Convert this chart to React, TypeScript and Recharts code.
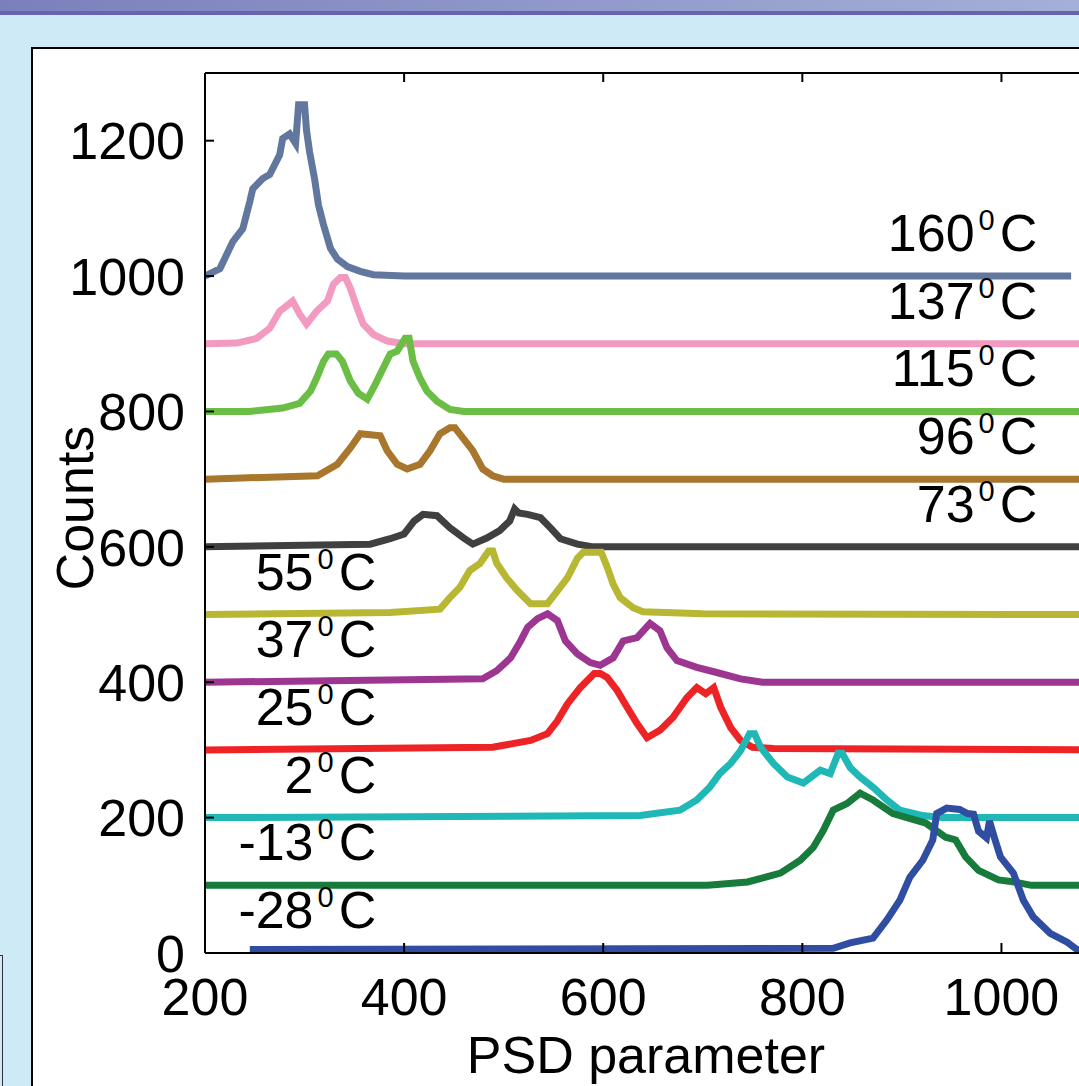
import React from 'react';
import { LineChart, Line, XAxis, YAxis, ReferenceDot } from 'recharts';

const FONT = '"Liberation Sans", Arial, Helvetica, sans-serif';

type Pt = [number, number];

// PSD spectra, one per temperature, stacked with a vertical offset of 100 counts
const s160: Pt[] = [
  [200, 1000], [215, 1011], [228, 1051], [238, 1070], [245, 1110], [248, 1129], [258, 1144],
  [265, 1150], [275, 1179], [278, 1203], [285, 1210], [291, 1196], [294, 1253], [300, 1253],
  [302, 1215], [305, 1184], [310, 1144], [314, 1105], [319, 1076], [326, 1041], [333, 1025],
  [343, 1014], [356, 1007], [369, 1002], [400, 1000], [1070, 1000],
];
const s137: Pt[] = [
  [200, 900], [232, 901], [252, 908], [265, 923], [275, 948], [288, 963], [295, 944],
  [302, 929], [312, 948], [323, 963], [329, 988], [336, 998], [341, 998], [346, 982],
  [353, 952], [359, 929], [369, 914], [383, 904], [400, 900], [1100, 900],
];
const s115: Pt[] = [
  [200, 800], [245, 800], [278, 805], [295, 812], [306, 830], [312, 849], [319, 874],
  [324, 885], [332, 885], [338, 874], [346, 845], [354, 827], [363, 818], [371, 840],
  [379, 864], [386, 885], [393, 889], [401, 908], [405, 908], [409, 874], [416, 849],
  [423, 830], [433, 815], [446, 803], [460, 800], [1100, 800],
];
const s96: Pt[] = [
  [200, 700], [313, 705], [333, 722], [346, 746], [356, 767], [376, 764], [383, 742],
  [393, 722], [403, 715], [416, 722], [426, 742], [436, 767], [446, 776], [451, 776],
  [459, 761], [469, 742], [479, 715], [489, 705], [500, 700], [1100, 700],
];
const s73: Pt[] = [
  [200, 600], [366, 604], [386, 612], [400, 619], [410, 638], [419, 648], [433, 646],
  [446, 628], [460, 613], [469, 604], [483, 613], [496, 624], [506, 638], [511, 656],
  [515, 650], [524, 648], [537, 643], [547, 628], [557, 612], [574, 604], [590, 600],
  [1100, 600],
];
const s55: Pt[] = [
  [200, 500], [386, 503], [436, 508], [446, 525], [456, 540], [466, 565], [476, 575],
  [485, 594], [489, 594], [493, 576], [503, 554], [514, 535], [527, 516], [544, 516],
  [554, 535], [564, 554], [574, 583], [580, 592], [598, 592], [604, 570], [610, 545],
  [617, 525], [630, 510], [640, 504], [700, 501], [1100, 500],
];
const s37: Pt[] = [
  [200, 400], [479, 405], [493, 417], [507, 436], [517, 461], [524, 481], [534, 494],
  [544, 501], [554, 491], [562, 461], [574, 442], [587, 429], [597, 425], [610, 436],
  [620, 461], [634, 466], [647, 487], [657, 476], [664, 451], [674, 432], [694, 422],
  [715, 414], [738, 405], [760, 400], [1100, 400],
];
const s25: Pt[] = [
  [200, 300], [489, 304], [527, 314], [544, 324], [554, 343], [564, 368], [577, 392],
  [591, 413], [597, 413], [604, 407], [614, 388], [624, 363], [634, 339], [644, 318],
  [657, 329], [670, 348], [684, 377], [694, 392], [703, 383], [711, 392], [718, 363],
  [728, 333], [738, 314], [750, 304], [771, 302], [1100, 300],
];
const s2: Pt[] = [
  [200, 200], [637, 203], [677, 211], [694, 226], [707, 245], [717, 265], [728, 280],
  [738, 299], [747, 324], [752, 324], [758, 304], [771, 280], [785, 260], [801, 251],
  [818, 270], [828, 265], [836, 295], [840, 295], [848, 274], [858, 260], [871, 245],
  [885, 226], [898, 211], [921, 203], [940, 200], [1100, 200],
];
const sMinus13: Pt[] = [
  [200, 100], [705, 100], [745, 105], [778, 118], [798, 137], [811, 156], [821, 181],
  [831, 211], [845, 221], [858, 236], [871, 226], [891, 206], [905, 200], [924, 192],
  [944, 171], [954, 167], [964, 142], [977, 122], [997, 108], [1013, 105], [1030, 100],
  [1100, 100],
];
const sMinus28: Pt[] = [
  [245, 5], [831, 7], [848, 15], [871, 22], [885, 49], [898, 78], [908, 112], [921, 137],
  [931, 167], [935, 206], [945, 214], [958, 212], [966, 206], [972, 205], [977, 180],
  [985, 170], [988, 195], [993, 170], [999, 142], [1012, 118], [1022, 78], [1032, 53],
  [1049, 29], [1066, 16], [1076, 5], [1100, 0],
];

const spectra = [s160, s137, s115, s96, s73, s55, s37, s25, s2, sMinus13, sMinus28];
const temperatures = ['160', '137', '115', '96', '73', '55', '37', '25', '2', '-13', '-28'];
const baselines = [1000, 900, 800, 700, 600, 500, 400, 300, 200, 100, 0];

const xTicks = [200, 400, 600, 800, 1000];
const yTicks = [0, 200, 400, 600, 800, 1000, 1200];

const lineColors = [
  '#62779e', '#f39ac1', '#6bbe45', '#a8762c', '#404040', '#b7b733',
  '#9d3691', '#ee2326', '#20b7b7', '#177b3b', '#2f4ea2',
];

const curves = spectra.map((pts) => pts.map(([x, y]) => ({ x, y })));

const YTick = (props: any) => {
  const { x, y, payload } = props;
  return (
    <g>
      <line x1={x} x2={x + 9} y1={y} y2={y} stroke="#000" strokeWidth={2} />
      <text x={x - 20} y={y} dy="0.36em" textAnchor="end" fontFamily={FONT} fontSize={52} fill="#000">
        {payload.value}
      </text>
    </g>
  );
};

const XTickBottom = (props: any) => {
  const { x, y, payload } = props;
  return (
    <g>
      <line x1={x} x2={x} y1={y} y2={y - 10} stroke="#000" strokeWidth={2} />
      <text x={x} y={y + 62} textAnchor="middle" fontFamily={FONT} fontSize={52} fill="#000">
        {payload.value}
      </text>
    </g>
  );
};

const XTickTop = (props: any) => {
  const { x, y } = props;
  return <line x1={x} x2={x} y1={y} y2={y + 9} stroke="#000" strokeWidth={2} />;
};

const TempLabel = (props: any) => {
  const { viewBox, text } = props;
  const vb = viewBox || { x: 0, y: 0, width: 0, height: 0 };
  const cx = vb.x + (vb.width || 0) / 2;
  const cy = vb.y + (vb.height || 0) / 2;
  return (
    <text x={cx} y={cy - 25} textAnchor="end" fontFamily={FONT} fontSize={52} fill="#000">
      {text}
      <tspan fontSize={29} dx={4} dy={-21}>0</tspan>
      <tspan dx={5} dy={21}>C</tspan>
    </text>
  );
};

const XTitle = (props: any) => {
  const vb = props.viewBox;
  return (
    <text x={vb.x + vb.width / 2 - 7} y={vb.y + 120} textAnchor="middle" fontFamily={FONT} fontSize={52} fill="#000">
      PSD parameter
    </text>
  );
};

const YTitle = (props: any) => {
  const vb = props.viewBox;
  const cx = vb.x + 93;
  const cy = vb.y + vb.height / 2 - 5;
  return (
    <text x={cx} y={cy} transform={`rotate(-90 ${cx} ${cy})`} textAnchor="middle" fontFamily={FONT} fontSize={52} fill="#000">
      Counts
    </text>
  );
};

export default function App() {
  return (
    <div style={{ position: 'fixed', left: 0, top: 0, width: 1079, height: 1086, overflow: 'hidden', background: '#cdeaf6' }}>
      <div style={{ position: 'absolute', left: 0, top: 0, width: 1079, height: 11, background: 'linear-gradient(to right, #7a80bc, #a4b0d7)' }} />
      <div style={{ position: 'absolute', left: 0, top: 11, width: 1079, height: 4, background: '#6863ae' }} />
      <div style={{ position: 'absolute', left: -100, top: 955, width: 101, height: 200, border: '1px solid #333', background: '#cdeaf6' }} />
      <div style={{ position: 'absolute', left: 31, top: 47, width: 1200, height: 1200, border: '2px solid #000', background: '#fff' }} />
      <div style={{ position: 'absolute', left: 0, top: 0 }}>
        <LineChart width={1150} height={1086} margin={{ top: 72, right: 49, bottom: 0, left: 0 }}>
          <XAxis
            xAxisId="bottom"
            dataKey="x"
            type="number"
            domain={[200, 1100]}
            ticks={xTicks}
            interval={0}
            allowDataOverflow
            height={133}
            tickSize={0}
            tickMargin={0}
            tickLine={false}
            axisLine={{ stroke: '#000', strokeWidth: 2 }}
            tick={<XTickBottom />}
            label={<XTitle />}
          />
          <XAxis
            xAxisId="top"
            orientation="top"
            dataKey="x"
            type="number"
            domain={[200, 1100]}
            ticks={xTicks}
            interval={0}
            allowDataOverflow
            height={1}
            tickSize={0}
            tickMargin={0}
            tickLine={false}
            axisLine={{ stroke: '#000', strokeWidth: 2 }}
            tick={<XTickTop />}
          />
          <YAxis
            dataKey="y"
            type="number"
            domain={[0, 1300]}
            ticks={yTicks}
            interval={0}
            allowDataOverflow
            width={205}
            tickSize={0}
            tickMargin={0}
            tickLine={false}
            axisLine={{ stroke: '#000', strokeWidth: 2 }}
            tick={<YTick />}
            label={<YTitle />}
          />
          {curves.map((data, i) => (
            <Line
              key={temperatures[i]}
              xAxisId="bottom"
              data={data}
              dataKey="y"
              type="linear"
              stroke={lineColors[i]}
              strokeWidth={7}
              dot={false}
              activeDot={false}
              isAnimationActive={false}
            />
          ))}
          {temperatures.map((t, i) => (
            <ReferenceDot
              key={`lbl-${t}`}
              xAxisId="bottom"
              x={i < 5 ? 1036 : 372}
              y={baselines[i]}
              r={1}
              fill="none"
              stroke="none"
              label={<TempLabel text={t} />}
            />
          ))}
        </LineChart>
      </div>
    </div>
  );
}
